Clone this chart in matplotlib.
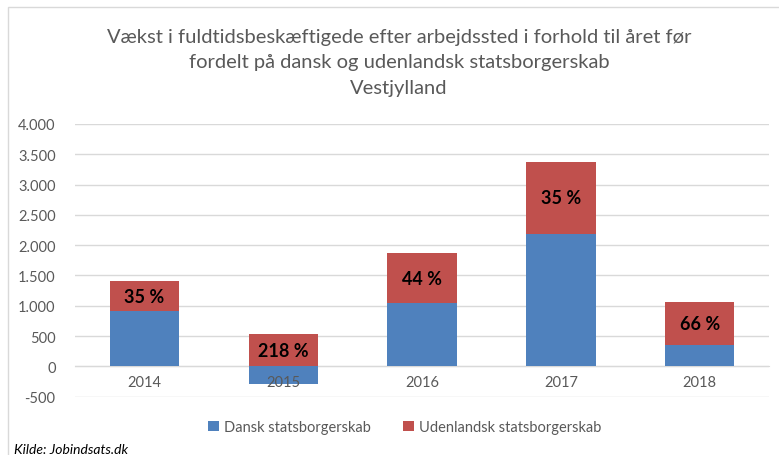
import matplotlib.pyplot as plt
import numpy as np
from matplotlib.patches import Rectangle
from matplotlib.ticker import FuncFormatter

plt.rcParams["font.family"] = ["Lato", "DejaVu Sans"]

years = ["2014", "2015", "2016", "2017", "2018"]
dansk = [915, -290, 1041, 2190, 360]
udenlandsk = [485, 536, 822, 1180, 700]
pct_labels = ["35 %", "218 %", "44 %", "35 %", "66 %"]

title = ("Vækst i fuldtidsbeskæftigede efter arbejdssted i forhold til året før\n"
         "fordelt på dansk og udenlandsk statsborgerskab\nVestjylland")

BLUE = "#4F81BD"
RED = "#C0504D"
GREY = "#595959"
GRID = "#D9D9D9"

fig = plt.figure(figsize=(7.79, 4.56), dpi=100)
ax = fig.add_axes([0.0963, 0.128, 0.891, 0.598])

x = np.arange(len(years))
# udenlandsk stacks on top of positive dansk, from zero when dansk is negative
bottoms = [d if d > 0 else 0 for d in dansk]
ax.bar(x, dansk, width=0.5, color=BLUE, label="Dansk statsborgerskab", zorder=2)
ax.bar(x, udenlandsk, width=0.5, bottom=bottoms, color=RED,
       label="Udenlandsk statsborgerskab", zorder=2)

for xi, b, u, lab in zip(x, bottoms, udenlandsk, pct_labels):
    ax.text(xi, b + u / 2, lab, ha="center", va="center", fontsize=13,
            fontweight="bold", color="black", zorder=3)

ax.set_ylim(-500, 4000)
ax.set_xlim(-0.5, len(years) - 0.5)
ax.set_yticks(np.arange(-500, 4001, 500))
ax.yaxis.set_major_formatter(FuncFormatter(lambda v, p: f"{int(v):,}".replace(",", ".")))
ax.grid(axis="y", color=GRID, linewidth=1, zorder=0)
ax.set_axisbelow(True)

for s in ["top", "right", "left"]:
    ax.spines[s].set_visible(False)
ax.spines["bottom"].set_position(("data", 0))
ax.spines["bottom"].set_color(GRID)
ax.spines["bottom"].set_zorder(1)

ax.set_xticks(x)
ax.set_xticklabels(years)
ax.tick_params(axis="x", length=0, pad=6, labelsize=10.5, labelcolor=GREY)
ax.tick_params(axis="y", length=0, pad=14, labelsize=10.5, labelcolor=GREY)
ax.xaxis.set_zorder(4)

fig.text(0.512, 0.862, title, ha="center", va="center", fontsize=14.5,
         color=GREY, linespacing=1.6)

fig.legend(loc="center", bbox_to_anchor=(0.52, 0.061), ncol=2, frameon=False,
           fontsize=10.5, labelcolor=GREY, handlelength=0.7, handleheight=0.7,
           handletextpad=0.4, columnspacing=2.2)

fig.text(0.018, 0.013, "Kilde: Jobindsats.dk", ha="left", va="center",
         fontsize=10, style="italic", color="black")

fig.patches.append(Rectangle((0.0103, -0.05), 1.1, 1.032, transform=fig.transFigure,
                             fill=False, edgecolor=GRID, linewidth=1))

fig.savefig("out.png", dpi=100)
